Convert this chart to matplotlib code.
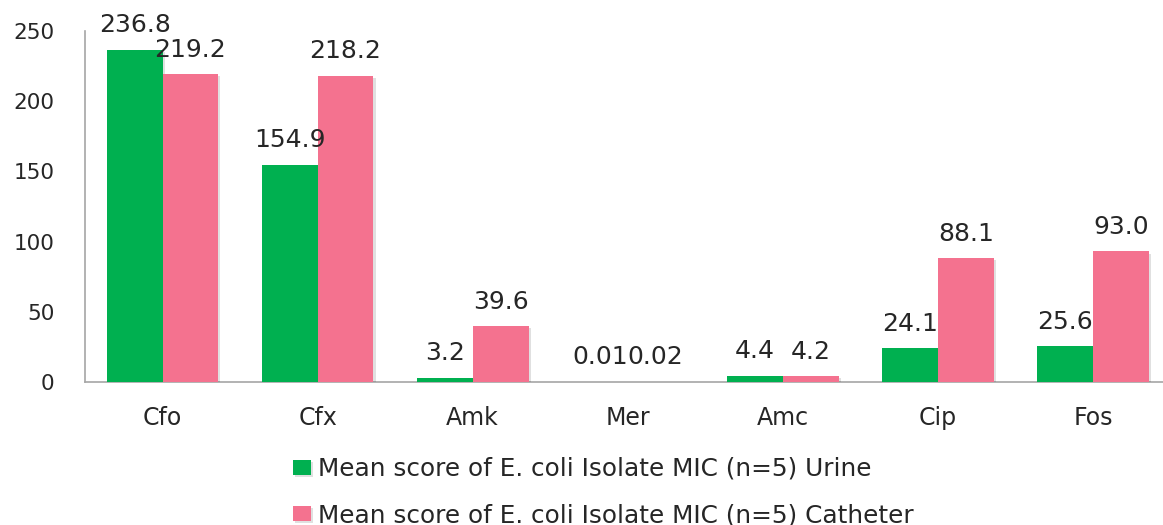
import matplotlib
matplotlib.use("Agg")
import matplotlib.pyplot as plt
import matplotlib.patheffects as pe
import numpy as np

categories = ["Cfo", "Cfx", "Amk", "Mer", "Amc", "Cip", "Fos"]
urine = [236.8, 154.9, 3.2, 0.01, 4.4, 24.1, 25.6]
catheter = [219.2, 218.2, 39.6, 0.02, 4.2, 88.1, 93.0]
urine_labels = ["236.8", "154.9", "3.2", "0.01", "4.4", "24.1", "25.6"]
catheter_labels = ["219.2", "218.2", "39.6", "0.02", "4.2", "88.1", "93.0"]
series_names = ["Mean score of E. coli Isolate MIC (n=5) Urine",
                "Mean score of E. coli Isolate MIC (n=5) Catheter"]
yticks = [0, 50, 100, 150, 200, 250]

GREEN = "#00B050"
PINK = "#F4728F"
AXIS = "#A6A6A6"
TEXT = "#262626"

plt.rcParams["font.family"] = ["DejaVu Sans"]

W, H = 1163, 525
fig = plt.figure(figsize=(W / 100, H / 100), dpi=100)
ax = fig.add_axes([85 / W, 143 / H, 1085.5 / W, 351 / H])

x = np.arange(len(categories))
width = 0.36
shadow = [pe.SimplePatchShadow(offset=(1.5, -1.5), shadow_rgbFace="#000000", alpha=0.12), pe.Normal()]
b1 = ax.bar(x - 0.18, urine, width, color=GREEN, label=series_names[0], zorder=3)
b2 = ax.bar(x + 0.18, catheter, width, color=PINK, label=series_names[1], zorder=3)
for bars in (b1, b2):
    for p in bars:
        p.set_path_effects(shadow)

for bars, labels in ((b1, urine_labels), (b2, catheter_labels)):
    ax.bar_label(bars, labels=labels, padding=9, fontsize=18, color=TEXT)

ax.set_xlim(-0.5, len(categories) - 0.5)
ax.set_ylim(0, 250)
ax.set_yticks(yticks)
ax.set_xticks(x)
ax.set_xticklabels(categories)
ax.tick_params(axis="y", length=0, pad=22, labelsize=15.5, labelcolor=TEXT)
ax.tick_params(axis="x", length=0, pad=17, labelsize=17, labelcolor=TEXT)
for side in ("top", "right"):
    ax.spines[side].set_visible(False)
for side in ("left", "bottom"):
    ax.spines[side].set_color(AXIS)
    ax.spines[side].set_linewidth(1.2)

fig.legend(handles=[b1, b2], labels=series_names, loc="center left",
           bbox_to_anchor=(293 / W, (525 - 492) / H), frameon=False,
           fontsize=17.8, handlelength=0.73, handleheight=0.57, handletextpad=0.3,
           labelspacing=0.9, labelcolor=TEXT, borderpad=0, borderaxespad=0)

fig.savefig("out.png", dpi=100)
